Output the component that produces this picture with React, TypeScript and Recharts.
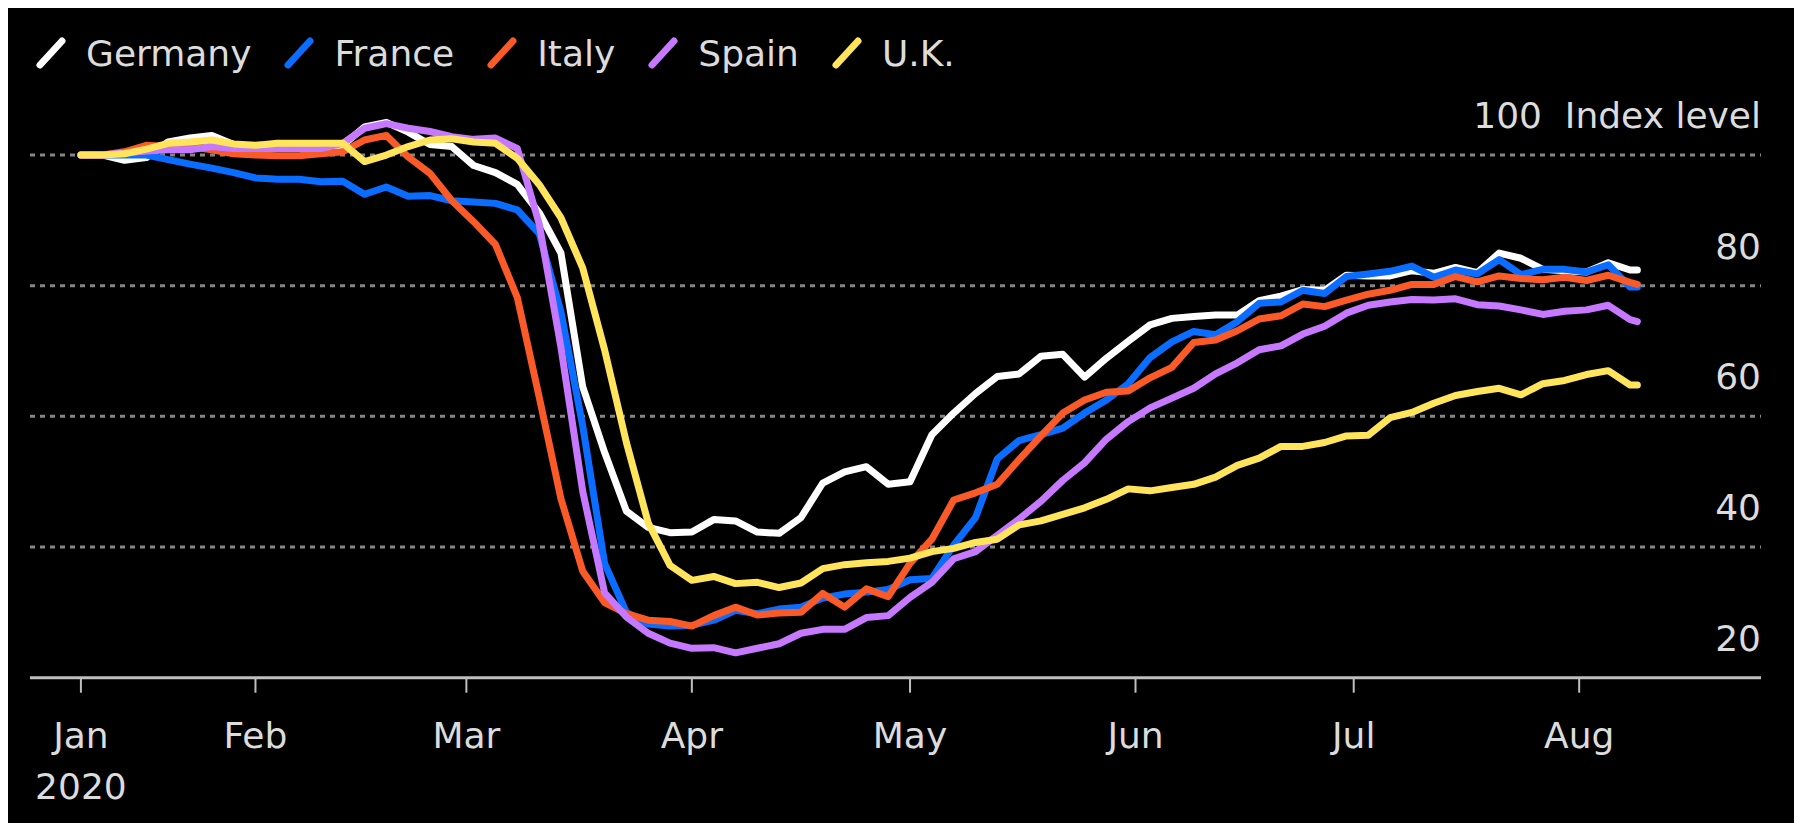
import { LineChart, Line, XAxis, YAxis, CartesianGrid } from "recharts";

// day of year 2020 (0 = Jan 1)
const days = [
  7, 10, 13, 16, 19, 22, 25, 28, 31, 34, 37, 40, 43, 46, 49, 52, 55, 58, 61, 64,
  67, 70, 73, 76, 79, 82, 85, 88, 91, 94, 97, 100, 103, 106, 109, 112, 115, 118, 121, 124,
  127, 130, 133, 136, 139, 142, 145, 148, 151, 154, 157, 160, 163, 166, 169, 172, 175, 178, 181, 184,
  187, 190, 193, 196, 199, 202, 205, 208, 211, 214, 217, 220, 221,
];

const germany = [
  100, 100, 99.2, 99.6, 102, 102.6, 103, 101.6, 101.2, 101.2, 101.3, 101.3, 101.5, 104.3, 105, 103.5, 101.6, 101.3, 98.4, 97.3,
  95.5, 91.2, 85, 64.5, 54.5, 45.5, 43, 42.2, 42.3, 44.2, 44, 42.3, 42.1, 44.5, 49.8, 51.5, 52.3, 49.6, 50, 57.2,
  60.5, 63.5, 66.1, 66.5, 69.2, 69.5, 66, 68.9, 71.5, 74, 75, 75.3, 75.5, 75.5, 77.7, 78.4, 79.4, 79.3, 81.6, 81.5,
  81.5, 82.3, 81.9, 82.8, 82, 85, 84.2, 82.5, 82.3, 82.1, 83.5, 82.4, 82.4,
];

const france = [
  100, 100, 100, 100, 99.3, 98.6, 98, 97.3, 96.5, 96.3, 96.3, 95.9, 96, 94, 95.1, 93.7, 93.8, 93, 92.8, 92.6,
  91.6, 88, 76, 58.5, 37.5, 30, 28.2, 27.9, 28, 28.8, 30.3, 29.8, 30.5, 30.8, 32.2, 32.8, 33.1, 33.5, 35, 35.2,
  40.3, 44.5, 53.5, 56.3, 57.2, 58.2, 60.5, 62.5, 65, 69, 71.4, 73, 72.5, 74.5, 77.3, 77.5, 79.3, 78.8, 81.4, 81.8,
  82.2, 83, 81.3, 82.4, 81.8, 84, 81.7, 82.5, 82.5, 82.1, 83.2, 79.8, 79.8,
];

const italy = [
  100, 100, 100.5, 101.5, 101.3, 101.3, 100.8, 100.2, 100, 99.9, 99.9, 100.2, 100.5, 102.3, 103, 99.7, 97.2, 93, 89.8, 86.3,
  78.2, 63, 47.4, 36.3, 31.5, 29.8, 28.8, 28.6, 27.9, 29.5, 30.8, 29.6, 29.9, 30, 32.9, 30.8, 33.6, 32.4, 37.5, 41.2,
  47.2, 48.3, 49.6, 53.4, 57, 60.5, 62.5, 63.7, 63.9, 65.9, 67.5, 71.3, 71.7, 73.1, 74.9, 75.4, 77.2, 76.8, 77.8, 78.7,
  79.3, 80.2, 80.2, 81.4, 80.6, 81.5, 81.1, 80.9, 81.3, 80.8, 81.6, 80.5, 80.2,
];

const spain = [
  100, 100, 100.3, 100.6, 100.8, 100.8, 101.3, 101, 101, 101, 101, 101, 101.8, 104.1, 104.8, 104.1, 103.6, 102.8, 102.4, 102.6,
  101, 89.5, 70.6, 48.5, 33, 29.3, 26.8, 25.3, 24.5, 24.6, 23.8, 24.5, 25.2, 26.8, 27.4, 27.4, 29.2, 29.5, 32.3, 34.6,
  38.2, 39.3, 41.8, 44.3, 47, 50.2, 52.9, 56.5, 59.2, 61.3, 62.8, 64.3, 66.5, 68.2, 70.2, 70.8, 72.6, 73.8, 75.8, 77,
  77.5, 77.9, 77.8, 78, 77.1, 76.9, 76.3, 75.6, 76.1, 76.3, 77, 74.8, 74.5,
];

const uk = [
  100, 100, 100.2, 100.9, 101.8, 102, 102.3, 101.7, 101.5, 101.8, 101.8, 101.8, 101.8, 99, 100, 101.3, 102.3, 102.5, 102, 101.8,
  99.5, 95.5, 90.4, 82.7, 70.2, 56, 43.7, 37.2, 34.9, 35.5, 34.4, 34.6, 33.8, 34.5, 36.7, 37.3, 37.6, 37.8, 38.3, 39.3,
  39.8, 40.7, 41.2, 43.4, 44, 45, 46, 47.3, 48.9, 48.6, 49.1, 49.6, 50.7, 52.5, 53.6, 55.4, 55.4, 56, 57, 57.1,
  59.8, 60.6, 62, 63.2, 63.8, 64.3, 63.3, 65, 65.5, 66.4, 67, 64.8, 64.8,
];

const monthTicks = [7, 31, 60, 91, 121, 152, 182, 213];
const monthLabels = ["Jan", "Feb", "Mar", "Apr", "May", "Jun", "Jul", "Aug"];
const valueTicks = [20, 40, 60, 80, 100];
const gridValues = [40, 60, 80, 100];

const series = [
  { key: "germany", name: "Germany", color: "#ffffff" },
  { key: "france", name: "France", color: "#0a6dff" },
  { key: "italy", name: "Italy", color: "#fa5a28" },
  { key: "spain", name: "Spain", color: "#c678ff" },
  { key: "uk", name: "U.K.", color: "#ffe45c" },
];

const data = days.map((day, i) => ({
  day,
  germany: germany[i],
  france: france[i],
  italy: italy[i],
  spain: spain[i],
  uk: uk[i],
}));

const FONT = '"DejaVu Sans", sans-serif';
const TEXT = "#dcdcdc";

function MonthTick({ x, y, payload }: any) {
  const i = monthTicks.indexOf(payload.value);
  return (
    <g>
      <text x={x} y={y} dy={55} textAnchor="middle" fill={TEXT} fontSize={36} fontFamily={FONT}>
        {monthLabels[i]}
      </text>
      {i === 0 && (
        <text x={x} y={y} dy={106} textAnchor="middle" fill={TEXT} fontSize={36} fontFamily={FONT}>
          2020
        </text>
      )}
    </g>
  );
}

function ValueTick({ x, y, payload }: any) {
  const label = payload.value === 100 ? "100\u00a0 Index level" : String(payload.value);
  return (
    <text x={x} y={y - 27} textAnchor="end" fill={TEXT} fontSize={36} fontFamily={FONT}>
      {label}
    </text>
  );
}

function LegendRow() {
  return (
    <div
      style={{
        position: "absolute",
        left: 27,
        top: 28,
        display: "flex",
        alignItems: "flex-start",
        fontFamily: FONT,
        fontSize: 36,
        lineHeight: "36px",
        color: TEXT,
        zIndex: 2,
      }}
    >
      {series.map((s) => (
        <div key={s.key} style={{ display: "flex", alignItems: "flex-start", marginRight: 32 }}>
          <svg width={32} height={34} style={{ marginRight: 19, display: "block" }}>
            <line x1={5} y1={29} x2={27} y2={5} stroke={s.color} strokeWidth={7} strokeLinecap="round" />
          </svg>
          <span style={{ whiteSpace: "nowrap" }}>{s.name}</span>
        </div>
      ))}
    </div>
  );
}

export default function App() {
  return (
    <div
      style={{
        position: "fixed",
        top: 8,
        left: 8,
        width: 1786,
        height: 815,
        background: "#000",
        overflow: "hidden",
      }}
    >
      <LegendRow />
      <LineChart
        width={1786}
        height={815}
        data={data}
        margin={{ top: 81.7, right: 32, left: 22, bottom: 0 }}
      >
        <CartesianGrid
          horizontal={true}
          vertical={false}
          horizontalValues={gridValues}
          stroke="#858585"
          strokeWidth={3}
          strokeDasharray="5 5"
        />
        <XAxis
          dataKey="day"
          type="number"
          domain={[0, 238]}
          allowDataOverflow
          ticks={monthTicks}
          interval={0}
          height={145.3}
          tickSize={15}
          tickMargin={0}
          axisLine={{ stroke: "#bfbfbf", strokeWidth: 3 }}
          tickLine={{ stroke: "#bfbfbf", strokeWidth: 2 }}
          tick={<MonthTick />}
        />
        <YAxis
          orientation="right"
          width={1}
          type="number"
          domain={[20, 110]}
          allowDataOverflow
          ticks={valueTicks}
          interval={0}
          axisLine={false}
          tickLine={false}
          tickSize={0}
          tickMargin={0}
          tick={<ValueTick />}
        />
        {series.map((s) => (
          <Line
            key={s.key}
            dataKey={s.key}
            name={s.name}
            type="linear"
            stroke={s.color}
            strokeWidth={7}
            strokeLinejoin="round"
            strokeLinecap="round"
            dot={false}
            activeDot={false}
            isAnimationActive={false}
          />
        ))}
      </LineChart>
    </div>
  );
}
